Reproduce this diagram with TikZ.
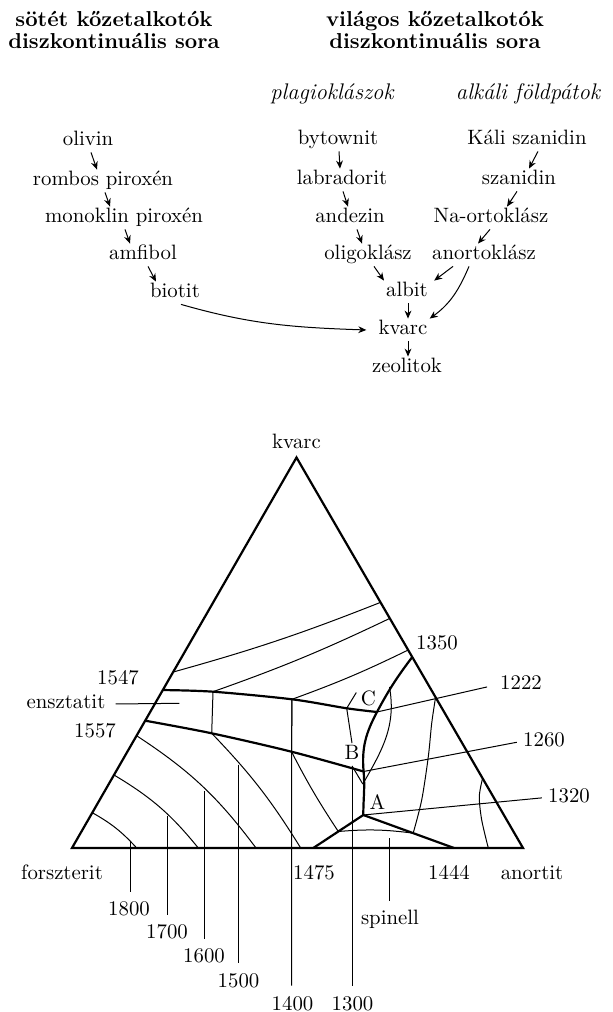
\documentclass[tikz,border=0pt]{standalone}
\usepackage{tikz}
\usetikzlibrary{arrows.meta,calc}

\begin{document}
\begin{tikzpicture}[x=0.5pt,y=0.5pt,
  lbl/.style={font=\fontsize{10.4}{12}\selectfont,inner sep=1pt,text height=7pt,text depth=2pt,anchor=base},
  head/.style={font=\bfseries\fontsize{10.8}{11}\selectfont,align=center,inner sep=0pt},
  group/.style={lbl,font=\itshape\fontsize{11.3}{13}\selectfont},
  arr/.style={-{Stealth[length=4pt,width=3.4pt]},line width=0.5pt},
  side/.style={line width=1.1pt,line join=miter},
  bound/.style={line width=1.1pt,line join=round},
  iso/.style={line width=0.5pt},
  tick/.style={line width=0.5pt,shorten >=4pt},
  lead/.style={line width=0.5pt,shorten >=2pt}
]
\useasboundingbox (0,0) rectangle (613,1012);

% headings
\node[head] (hdark)  at (114,982) {sötét kőzetalkotók\\diszkontinuális sora};
\node[head] (hlight) at (435,982) {világos kőzetalkotók\\diszkontinuális sora};
\node[group] (plag)   at (332,912) {plagioklászok};
\node[group] (alkali) at (528,912) {alkáli földpátok};

% dark minerals
\node[lbl] (olivin)  at (88,866)  {olivin};
\node[lbl] (rombpir) at (103,826) {rombos piroxén};
\node[lbl] (monopir) at (124,789) {monoklin piroxén};
\node[lbl] (amfibol) at (143,752) {amfibol};
\node[lbl] (biotit)  at (175,714) {biotit};

% plagioclase row
\node[lbl] (bytownit) at (338,867) {bytownit};
\node[lbl] (labrador) at (342,827) {labradorit};
\node[lbl] (andezin)  at (350,789) {andezin};
\node[lbl] (oligokl)  at (368,752) {oligoklász};
\node[lbl] (albit)    at (407,715) {albit};
\node[lbl] (kvarc)    at (403,677) {kvarc};
\node[lbl] (zeolit)   at (407,639) {zeolitok};

% alkali feldspars
\node[lbl] (kaliszan) at (527,867) {Káli szanidin};
\node[lbl] (szanidin) at (519,827) {szanidin};
\node[lbl] (naortok)  at (491,789) {Na-ortoklász};
\node[lbl] (anortok)  at (484,752) {anortoklász};

\draw[arr] ([xshift=1.5pt]olivin.south) -- ([xshift=-3pt]rombpir.north);
\draw[arr] ([xshift=1pt]rombpir.south) -- ([xshift=-7pt]monopir.north);
\draw[arr] ([xshift=0.5pt]monopir.south) -- ([xshift=-6.5pt]amfibol.north);
\draw[arr] ([xshift=2.5pt]amfibol.south) -- ([xshift=-9.5pt]biotit.north);

\draw[arr] ([xshift=0.5pt]bytownit.south) -- ([xshift=-1pt]labrador.north);
\draw[arr] ([xshift=0.5pt]labrador.south) -- ([xshift=-1pt]andezin.north);
\draw[arr] ([xshift=3.5pt]andezin.south) -- ([xshift=-3pt]oligokl.north);
\draw[arr] ([xshift=3pt]oligokl.south) -- ([xshift=-11.5pt]albit.north);
\draw[arr] ([xshift=0.5pt]albit.south) -- ([xshift=2.5pt]kvarc.north);
\draw[arr] ([xshift=2.5pt]kvarc.south) -- ([xshift=0.5pt]zeolit.north);

\draw[arr] ([xshift=5.5pt]kaliszan.south) -- ([xshift=5pt]szanidin.north);
\draw[arr] ([xshift=-1pt]szanidin.south) -- ([xshift=8pt]naortok.north);
\draw[arr] ([xshift=-0.5pt]naortok.south) -- ([xshift=-3pt]anortok.north);
\draw[arr] ([xshift=-15.5pt]anortok.south) -- ([xshift=2pt]albit.north east);
\draw[arr] ([xshift=-7.5pt]anortok.south) to[out=247,in=36] (kvarc.north east);
\draw[arr] ([xshift=3pt]biotit.south) to[out=-16,in=178] ([xshift=-5pt]kvarc.west);

% phase diagram
\coordinate (F) at (72,164);
\coordinate (N) at (523,164);
\coordinate (Q) at (296.5,554.5);

\coordinate (P2) at (213,320.3);
\coordinate (P3) at (292,312.7);
\coordinate (Pc) at (346.7,303.7);
\coordinate (Pe) at (377,300);
\coordinate (L2) at (211.7,278.7);
\coordinate (L3) at (291.5,260.3);
\coordinate (L4) at (363.6,240.5);
\coordinate (T)  at (389.5,325);
\coordinate (M)  at (362.8,228);
\coordinate (A)  at (363.3,197);
\coordinate (S1) at (313.3,164);
\coordinate (S2) at (454,164);
\coordinate (Sp1) at ($(A)!0.5!(S1)$);
\coordinate (Sp2) at ($(A)!0.55!(S2)$);

\coordinate (U0) at ($(F)!0.4045!(Q)$);
\coordinate (W0) at ($(F)!0.326!(Q)$);
\coordinate (R0) at ($(N)!0.489!(Q)$);
\coordinate (I1) at ($(F)!0.4506!(Q)$);
\coordinate (J1) at ($(N)!0.629!(Q)$);
\coordinate (J2) at ($(N)!0.588!(Q)$);
\coordinate (J3) at ($(N)!0.507!(Q)$);
\coordinate (Ka) at ($(F)!0.0904!(Q)$);
\coordinate (Kb) at ($(F)!0.187!(Q)$);
\coordinate (Kc) at ($(F)!0.2876!(Q)$);
\coordinate (Rt) at ($(N)!0.386!(Q)$);
\coordinate (Rf) at ($(N)!0.1785!(Q)$);

\draw[side] (F) -- (N) -- (Q) -- cycle;

% field boundaries
\draw[bound] plot[smooth] coordinates {(U0) (P2) (P3) (Pc) (Pe)};
\draw[bound] plot[smooth] coordinates {(W0) (L2) (L3) (L4)};
\draw[bound] (R0) to[out=233,in=62] (Pe) to[out=242,in=95] (L4)
  to[out=275,in=90] (A);
\draw[bound] (S1) -- (A) -- (S2);

% isotherms
\draw[iso] (I1) to[bend right=3] (J1);
\draw[iso] (P2) to[bend right=3] (J2);
\draw[iso] (P3) to[bend right=3] (J3);
\draw[iso] (T) to[out=-80,in=60] (M);
\draw[iso] (P2) -- (L2);
\draw[iso] (P3) -- (L3);
\draw[iso] (Ka) to[bend left=9] (136.7,164);
\draw[iso] (Kb) to[bend left=10] (198.3,164);
\draw[iso] (Kc) to[bend left=10] (256,164);
\draw[iso] (L2) to[bend left=6] (300.7,164);
\draw[iso] (L3) to[bend right=3] (Sp1);
\draw[iso] (Sp1) to[bend left=6] (Sp2);
\draw[iso] plot[smooth] coordinates {(Rt) (431.7,288.7) (428.3,255.3) (421.7,212) (Sp2)};
\draw[iso] plot[smooth] coordinates {(Rf) (479.3,215.3) (481.7,192) (488.3,164)};

% labels
\node[lbl] (tq)    at (296.5,563) {kvarc};
\node[lbl] (tfo)   at (62,132)    {forszterit};
\node[lbl] (tan)   at (532,132)   {anortit};
\node[lbl] (n1475) at (314,132)   {1475};
\node[lbl] (n1444) at (449,132)   {1444};
\node[lbl] (n1800) at (129,96)    {1800};
\node[lbl] (n1700) at (167,73)    {1700};
\node[lbl] (n1600) at (204,49)    {1600};
\node[lbl] (n1500) at (238.5,25)  {1500};
\node[lbl] (n1400) at (292.5,2)   {1400};
\node[lbl] (n1300) at (352.5,2)   {1300};
\node[lbl] (spin)  at (390,87)    {spinell};
\node[lbl] (n1350) at (437,362.5) {1350};
\node[lbl] (n1547) at (118,327.5) {1547};
\node[lbl] (n1557) at (95,274.5)  {1557};
\node[lbl] (ensz)  at (66,303)    {ensztatit};
\node[lbl] (n1222) at (521,322.5) {1222};
\node[lbl] (n1260) at (544,265.5) {1260};
\node[lbl] (n1320) at (569,209.5) {1320};
\node[lbl] (labC)  at (368.3,306.5) {C};
\node[lbl] (labB)  at (352,252.5) {B};
\node[lbl] (labA)  at (377.3,202.5) {A};

% ticks to the temperature labels
\coordinate (k1800) at (130,171);
\coordinate (k1700) at (167.3,196);
\coordinate (k1600) at (204.3,221);
\coordinate (k1500) at (238.3,247.3);
\coordinate (kspin) at (389.3,173.7);
\draw[tick] (k1800) -- (k1800 |- n1800.north);
\draw[tick] (k1700) -- (k1700 |- n1700.north);
\draw[tick] (k1600) -- (k1600 |- n1600.north);
\draw[tick] (k1500) -- (k1500 |- n1500.north);
\draw[tick] (P3) -- (L3) -- (L3 |- n1400.north);
\draw[tick] (kspin) -- (kspin |- spin.north);

% points B and C
\draw[iso] (Pc) -- (labB.north);
\draw[tick] (labB.south) -- (labB.south |- n1300.north);
\draw[iso] (labB.south) -- (M);
\draw[lead] (Pc) -- (labC.north west);

% leaders
\coordinate (eP) at (179.3,308.7);
\draw[iso] ([xshift=4pt]ensz.east) -- (eP);
\draw[lead,shorten >=5.5pt] (Pe) -- (n1222.west);
\draw[lead] (L4) -- (n1260.west);
\draw[lead] (A) -- (n1320.west);
\end{tikzpicture}
\end{document}
